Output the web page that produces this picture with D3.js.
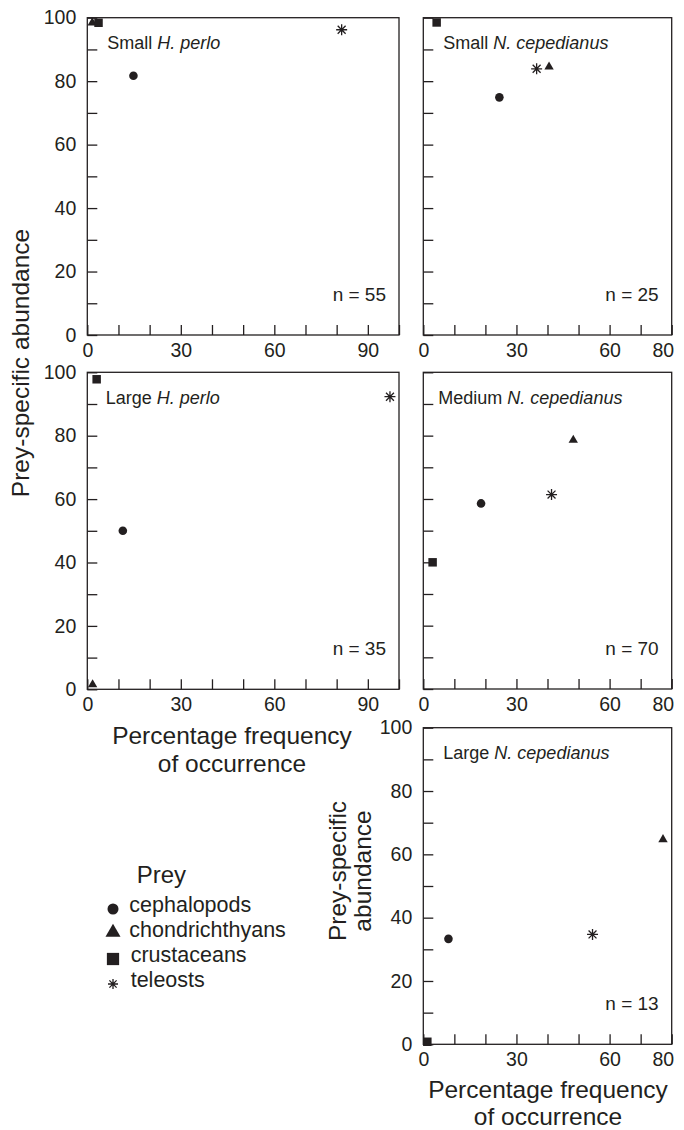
<!DOCTYPE html>
<html>
<head>
<meta charset="utf-8">
<script src="https://cdn.jsdelivr.net/npm/d3@7"></script>
<style>
  body { margin: 0; background: #fff; }
  svg { display: block; font-family: "Liberation Sans", Arial, sans-serif; }
</style>
</head>
<body>
<div id="chart"></div>
<script>
const width = 684,
  height = 1130,
  ink = "#231f20";

// prey categories, same order in every series below
const prey = ["cephalopods", "chondrichthyans", "crustaceans", "teleosts"];

// % frequency of occurrence (x) and prey-specific abundance (y)
const smallPerloFO = [14.8, 1.6, 3.6, 81.6];
const smallPerloPSA = [81.7, 98.4, 98.4, 96.2];
const largePerloFO = [11.4, 1.7, 3.0, 97.1];
const largePerloPSA = [50.0, 1.5, 97.8, 92.3];
const smallCepFO = [24.5, 40.5, 4.3, 36.5];
const smallCepPSA = [74.9, 84.5, 98.5, 83.9];
const mediumCepFO = [18.6, 48.3, 3.0, 41.3];
const mediumCepPSA = [58.6, 78.6, 40.0, 61.4];
const largeCepFO = [8.1, 77.2, 1.3, 54.5];
const largeCepPSA = [33.3, 64.7, 0.8, 34.7];

const sampleSizes = [55, 25, 35, 70, 13];
const yTickLabels = [0, 20, 40, 60, 80, 100];
const xTickLabelsPerlo = [0, 30, 60, 90];
const xTickLabelsCep = [0, 30, 60, 80];

const panels = [
  { size: "Small", sp: "H. perlo", fo: smallPerloFO, psa: smallPerloPSA, n: sampleSizes[0],
    xMax: 100, xLabels: xTickLabelsPerlo, x0: 87.3, x1: 399, y0: 335, y1: 17.7, yLabels: true, lx: 20 },
  { size: "Small", sp: "N. cepedianus", fo: smallCepFO, psa: smallCepPSA, n: sampleSizes[1],
    xMax: 80, xLabels: xTickLabelsCep, x0: 423.3, x1: 671.7, y0: 335, y1: 17.7, yLabels: false, lx: 20 },
  { size: "Large", sp: "H. perlo", fo: largePerloFO, psa: largePerloPSA, n: sampleSizes[2],
    xMax: 100, xLabels: xTickLabelsPerlo, x0: 87.3, x1: 399, y0: 689.3, y1: 372.3, yLabels: true, lx: 18.5 },
  { size: "Medium", sp: "N. cepedianus", fo: mediumCepFO, psa: mediumCepPSA, n: sampleSizes[3],
    xMax: 80, xLabels: xTickLabelsCep, x0: 423.3, x1: 671.7, y0: 689, y1: 372.3, yLabels: false, lx: 15 },
  { size: "Large", sp: "N. cepedianus", fo: largeCepFO, psa: largeCepPSA, n: sampleSizes[4],
    xMax: 80, xLabels: xTickLabelsCep, x0: 423.3, x1: 671.7, y0: 1044.3, y1: 727.7, yLabels: true, lx: 20 }
];

// asterisk used for teleosts
const symbolStar = {
  draw(ctx, size) {
    const r = Math.sqrt(size) / 2, d = r * 0.72;
    ctx.moveTo(-r, 0); ctx.lineTo(r, 0);
    ctx.moveTo(0, -r); ctx.lineTo(0, r);
    ctx.moveTo(-d, -d); ctx.lineTo(d, d);
    ctx.moveTo(-d, d); ctx.lineTo(d, -d);
  }
};
const shapes = [d3.symbolCircle, d3.symbolTriangle, d3.symbolSquare, symbolStar];
const plotSizes = [58, 38, 72, 121];
const legendSizes = [95, 98, 150, 100];

function mark(sel, i, sizes) {
  sel.attr("d", d3.symbol().type(shapes[i]).size(sizes[i])())
    .attr("fill", i === 3 ? "none" : ink)
    .attr("stroke", i === 3 ? ink : "none")
    .attr("stroke-width", 1.3);
}

const svg = d3.select("#chart").append("svg")
  .attr("width", width)
  .attr("height", height);

panels.forEach(p => {
  const xScale = d3.scaleLinear().domain([0, p.xMax]).range([p.x0, p.x1]);
  const yScale = d3.scaleLinear().domain([0, 100]).range([p.y0, p.y1]);
  const g = svg.append("g");

  const xAxis = d3.axisBottom(xScale)
    .tickValues(d3.range(0, p.xMax + 1, 10))
    .tickSize(-10)
    .tickPadding(8)
    .tickFormat(d => p.xLabels.includes(d) ? d : "");
  const yAxis = d3.axisLeft(yScale)
    .tickValues(d3.range(0, 101, 10))
    .tickSize(-10)
    .tickPadding(11)
    .tickFormat(d => p.yLabels && yTickLabels.includes(d) ? d : "");

  const gx = g.append("g").attr("transform", `translate(0,${p.y0})`).call(xAxis);
  const gy = g.append("g").attr("transform", `translate(${p.x0},0)`).call(yAxis);
  [gx, gy].forEach(a => {
    a.select(".domain").remove();
    a.selectAll("line").attr("stroke", ink).attr("stroke-width", 1.3);
    a.selectAll("text").attr("fill", ink).attr("font-size", 19.5)
      .attr("font-family", "Liberation Sans, Arial, sans-serif");
  });
  if (p.xMax === 80) {
    gx.selectAll(".tick text").filter(d => d === 80)
      .attr("text-anchor", "end").attr("dx", 2);
  }

  g.append("rect")
    .attr("x", p.x0).attr("y", p.y1)
    .attr("width", p.x1 - p.x0).attr("height", p.y0 - p.y1)
    .attr("fill", "none").attr("stroke", ink).attr("stroke-width", 1.3);

  const title = g.append("text")
    .attr("x", p.x0 + p.lx).attr("y", p.y1 + 31.5)
    .attr("font-size", 18).attr("fill", ink);
  title.append("tspan").text(p.size + " ");
  title.append("tspan").attr("font-style", "italic").text(p.sp);

  g.append("text")
    .attr("x", p.x1 - 13).attr("y", p.y0 - 34)
    .attr("text-anchor", "end").attr("font-size", 19)
    .attr("fill", ink).text(`n = ${p.n}`);

  g.selectAll(".pt")
    .data(prey)
    .join("path")
    .attr("class", "pt")
    .attr("transform", (d, i) => `translate(${xScale(p.fo[i])},${yScale(p.psa[i])})`)
    .each(function(d, i) { mark(d3.select(this), i, plotSizes); });
});

// axis titles
function multiLine(x, y, lines, gap, rotate) {
  const t = svg.append("text")
    .attr("transform", rotate ? `translate(${x},${y}) rotate(-90)` : `translate(${x},${y})`)
    .attr("text-anchor", "middle").attr("font-size", 24.5).attr("fill", ink);
  lines.forEach((l, i) => {
    t.append("tspan").attr("x", 0).attr("y", rotate ? 0 : i * gap)
      .attr("dy", rotate ? i * gap : 0).text(l);
  });
}
multiLine(29, 363, ["Prey-specific abundance"], 0, true);
multiLine(232, 744, ["Percentage frequency", "of occurrence"], 28, false);
multiLine(548, 1098, ["Percentage frequency", "of occurrence"], 26.5, false);
multiLine(346, 871, ["Prey-specific", "abundance"], 25, true);

// legend
svg.append("text")
  .attr("x", 136.7).attr("y", 883)
  .attr("font-size", 24).attr("fill", ink).text("Prey");

const legend = svg.selectAll(".legend")
  .data(prey)
  .join("g")
  .attr("class", "legend")
  .attr("transform", (d, i) => `translate(0,${912 + i * 25})`);

legend.append("path")
  .attr("transform", (d, i) => `translate(113,${i === 1 ? -4.5 : -3})`)
  .each(function(d, i) { mark(d3.select(this), i, legendSizes); });

legend.append("text")
  .attr("x", (d, i) => i < 2 ? 129.3 : 130.7)
  .attr("font-size", 21.5).attr("fill", ink)
  .text(d => d);
</script>
</body>
</html>
